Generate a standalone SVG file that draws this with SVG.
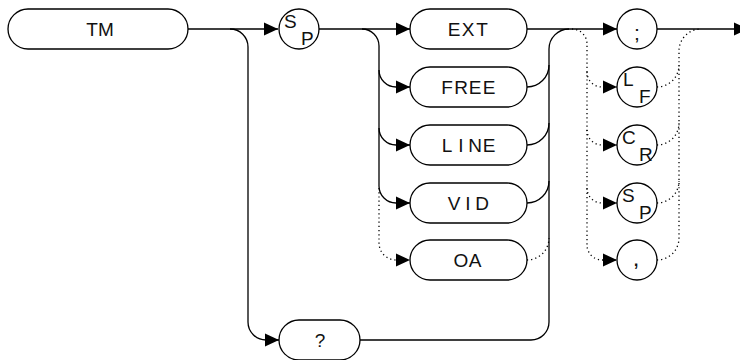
<svg xmlns="http://www.w3.org/2000/svg" width="740" height="360" viewBox="0 0 740 360">
<style>
.box{fill:#fff;stroke:#000;stroke-width:1.3}
.ln{fill:none;stroke:#000;stroke-width:1.3}
.dot{fill:none;stroke:#000;stroke-width:1.3;stroke-dasharray:1.2 3}
.t{font-family:"Liberation Sans",Arial,sans-serif;font-size:19px;fill:#111;text-anchor:middle}
.c{font-family:"Liberation Sans",Arial,sans-serif;font-size:19px;fill:#111}
</style>
<defs>
<marker id="ar" markerUnits="userSpaceOnUse" markerWidth="14" markerHeight="14" viewBox="0 0 14 14" refX="14" refY="7" orient="auto">
<path d="M0,0.5 L14,7 L0,13.5 Z" fill="#000"/>
</marker>
</defs>
<rect width="740" height="360" fill="#fff"/>
<g id="connectors">
<path class="ln" d="M188,29 H278" marker-end="url(#ar)"/>
<path class="ln" d="M230,29 A18,18 0 0 1 248,47 V322 A18,18 0 0 0 266,340 H279" marker-end="url(#ar)"/>
<path class="ln" d="M319,29 H410" marker-end="url(#ar)"/>
<path class="ln" d="M362,29 A17,17 0 0 1 379,46 V70 A17,17 0 0 0 396,87 H410" marker-end="url(#ar)"/>
<path class="ln" d="M379,70 V128 A17,17 0 0 0 396,145 H410" marker-end="url(#ar)"/>
<path class="ln" d="M379,128 V186 A17,17 0 0 0 396,203 H410" marker-end="url(#ar)"/>
<path class="dot" d="M379,188 V243 A17,17 0 0 0 396,260 H410" marker-end="url(#ar)"/>
<path class="ln" d="M527,29 H617" marker-end="url(#ar)"/>
<path class="ln" d="M527,87 A22,22 0 0 0 549,65"/>
<path class="ln" d="M527,145 A22,22 0 0 0 549,123"/>
<path class="ln" d="M527,203 A22,22 0 0 0 549,181"/>
<path class="dot" d="M527,260 A22,22 0 0 0 549,238"/>
<path class="ln" d="M360,340 H531 A18,18 0 0 0 549,322 V49 A20,20 0 0 1 569,29"/>
<path class="dot" d="M572,29 A15,15 0 0 1 587,44 V245 A15,15 0 0 0 602,260 H617" marker-end="url(#ar)"/>
<path class="dot" d="M587,72 A15,15 0 0 0 602,87 H617" marker-end="url(#ar)"/>
<path class="dot" d="M587,130 A15,15 0 0 0 602,145 H617" marker-end="url(#ar)"/>
<path class="dot" d="M587,188 A15,15 0 0 0 602,203 H617" marker-end="url(#ar)"/>
<path class="ln" d="M657,29 H748" marker-end="url(#ar)"/>
<path class="dot" d="M657,260 A22,22 0 0 0 679,238 V51 A22,22 0 0 1 701,29"/>
<path class="dot" d="M657,87 A22,22 0 0 0 679,65"/>
<path class="dot" d="M657,145 A22,22 0 0 0 679,123"/>
<path class="dot" d="M657,203 A22,22 0 0 0 679,181"/>
</g>
<g id="node-TM"><rect class="box" x="8" y="9" width="180" height="40" rx="20"/><text class="t" x="92 106" y="36">TM</text></g>
<g id="node-SP1"><circle class="box" cx="299" cy="29" r="20"/><text class="c" x="284" y="28">S</text><text class="c" x="301" y="45">P</text></g>
<g id="node-EXT"><rect class="box" x="410" y="9" width="117" height="40" rx="20"/><text class="t" x="454 468 482" y="36">EXT</text></g>
<g id="node-FREE"><rect class="box" x="410" y="67" width="117" height="40" rx="20"/><text class="t" x="447 461 475 489" y="94">FREE</text></g>
<g id="node-LINE"><rect class="box" x="410" y="125" width="117" height="40" rx="20"/><text class="t" x="447 461 475 489" y="152">LINE</text></g>
<g id="node-VID"><rect class="box" x="410" y="183" width="117" height="40" rx="20"/><text class="t" x="454 468 482" y="210">VID</text></g>
<g id="node-OA"><rect class="box" x="410" y="240" width="117" height="40" rx="20"/><text class="t" x="461 475" y="267">OA</text></g>
<g id="node-Q"><rect class="box" x="279" y="320" width="81" height="40" rx="20"/><text class="t" x="320" y="347">?</text></g>
<g id="node-semicolon"><circle class="box" cx="637" cy="29" r="20"/><text class="t" x="637" y="40" style="font-size:21px">;</text></g>
<g id="node-LF"><circle class="box" cx="637" cy="87" r="20"/><text class="c" x="623" y="86">L</text><text class="c" x="639" y="103">F</text></g>
<g id="node-CR"><circle class="box" cx="637" cy="145" r="20"/><text class="c" x="622" y="144">C</text><text class="c" x="639" y="161">R</text></g>
<g id="node-SP2"><circle class="box" cx="637" cy="203" r="20"/><text class="c" x="622" y="202">S</text><text class="c" x="639" y="219">P</text></g>
<g id="node-comma"><circle class="box" cx="637" cy="260" r="20"/><text class="t" x="636" y="266" style="font-size:24px">,</text></g>
</svg>
